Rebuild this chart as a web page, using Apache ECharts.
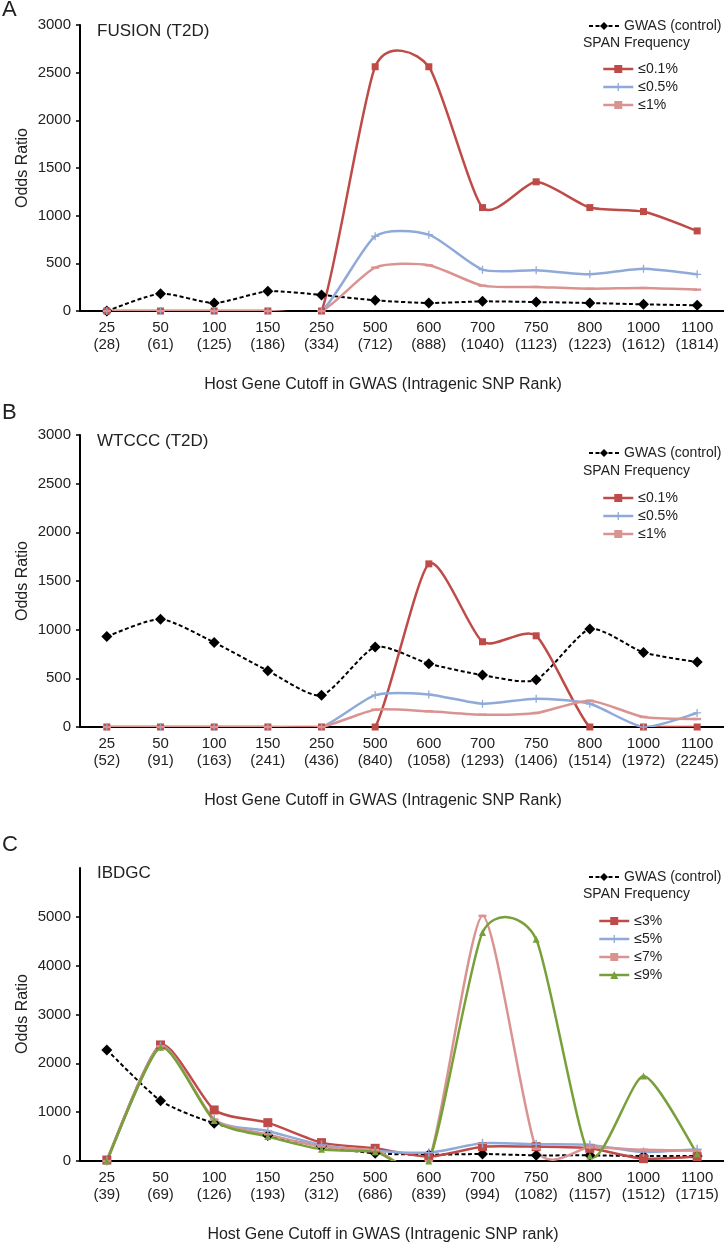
<!DOCTYPE html>
<html lang="en">
  <head>
    <meta charset="UTF-8" />
    <title>SPAN odds ratio</title>
    <style>
      html, body { margin: 0; padding: 0; background: #fff; }
    </style>
  </head>
  <body>
    <div id="main" style="width: 724px; height: 1245px"></div>

    <script src="https://cdn.jsdelivr.net/npm/echarts@6/dist/echarts.min.js"></script>
    <script>
      var myChart = echarts.init(document.getElementById("main"), null, { renderer: "canvas" });

      // x categories: host gene cutoff, with the intragenic SNP rank per panel
      const cutoffs = ["25", "50", "100", "150", "250", "500", "600", "700", "750", "800", "1000", "1100"];
      const ranksA = [28, 61, 125, 186, 334, 712, 888, 1040, 1123, 1223, 1612, 1814];
      const ranksB = [52, 91, 163, 241, 436, 840, 1058, 1293, 1406, 1514, 1972, 2245];
      const ranksC = [39, 69, 126, 193, 312, 686, 839, 994, 1082, 1157, 1512, 1715];

      // A: FUSION (T2D)
      const gwasA = [0, 182, 84, 206, 168, 112, 84, 101, 94, 84, 70, 60];
      const spanA01 = [0, 0, 0, 0, 0, 2562, 2562, 1085, 1355, 1085, 1043, 840];
      const spanA05 = [0, 0, 0, 0, 0, 784, 801, 434, 427, 385, 444, 385];
      const spanA1 = [0, 0, 0, 0, 0, 455, 480, 266, 252, 234, 241, 224];

      // B: WTCCC (T2D)
      const gwasB = [930, 1108, 869, 578, 325, 821, 650, 534, 486, 1006, 766, 667];
      const spanB01 = [0, 0, 0, 0, 0, 0, 1676, 876, 937, 0, 0, 0];
      const spanB05 = [0, 0, 0, 0, 0, 328, 335, 239, 291, 239, 0, 144];
      const spanB1 = [0, 0, 0, 0, 0, 178, 161, 127, 144, 270, 103, 82];

      // C: IBDGC
      const gwasC = [2275, 1236, 772, 520, 300, 157, 130, 143, 116, 116, 102, 102];
      const spanC3 = [20, 2377, 1045, 785, 376, 260, 89, 294, 294, 260, 48, 89];
      const spanC5 = [0, 2350, 850, 615, 328, 212, 171, 362, 342, 328, 184, 239];
      const spanC7 = [0, 2350, 850, 546, 294, 225, 0, 5020, 250, 280, 230, 210];
      const spanC9 = [0, 2330, 830, 500, 240, 190, 0, 4680, 4542, 100, 1740, 143];

      const yTicksAB = [0, 500, 1000, 1500, 2000, 2500, 3000];
      const yTicksC = [0, 1000, 2000, 3000, 4000, 5000];

      const RED = "#BE4B48";
      const BLUE = "#8FAAD8";
      const PINK = "#D99492";
      const GREEN = "#78A03A";
      const FONT = "Liberation Sans, Arial, sans-serif";

      const PLUS = "path://M4.2,0H5.8V4.2H10V5.8H5.8V10H4.2V5.8H0V4.2H4.2Z";
      const DASH = "path://M0,0H10V3H0Z";

      // spreadsheet-style smoothing (cardinal spline through the points)
      const TENSION = 0.11;

      function labels(ranks) {
        return cutoffs.map((c, i) => c + "\n(" + ranks[i] + ")");
      }

      function xAxis(idx, ranks) {
        return {
          type: "category",
          gridIndex: idx,
          data: labels(ranks),
          boundaryGap: true,
          axisLine: { lineStyle: { color: "#000", width: 2 } },
          axisTick: { show: false },
          axisLabel: {
            interval: 0,
            margin: 8,
            fontSize: 15,
            lineHeight: 17,
            color: "#222",
            fontFamily: FONT,
          },
        };
      }

      function yAxis(idx, max, interval, ticks) {
        return {
          type: "value",
          gridIndex: idx,
          min: 0,
          max: max,
          interval: interval,
          splitLine: { show: false },
          axisLine: { show: true, lineStyle: { color: "#000", width: 2 } },
          axisTick: { show: true, length: 4, customValues: ticks, lineStyle: { color: "#000", width: 1.5 } },
          axisLabel: {
            margin: 9,
            fontSize: 15,
            color: "#222",
            fontFamily: FONT,
            customValues: ticks,
            formatter: (v) => String(v),
          },
        };
      }

      // the curve itself, drawn segment by segment from the axis scales
      function curve(data, idx, color, width, dash) {
        const n = data.length;
        return {
          type: "custom",
          xAxisIndex: idx,
          yAxisIndex: idx,
          clip: true,
          silent: true,
          animation: false,
          data: data.map((v, i) => [i, v]),
          encode: { x: 0, y: 1 },
          renderItem: function (params, api) {
            const i = params.dataIndex;
            if (i >= n - 1) return null;
            const P = (k) => {
              k = Math.max(0, Math.min(n - 1, k));
              return api.coord([k, data[k]]);
            };
            const p0 = P(i - 1), p1 = P(i), p2 = P(i + 1), p3 = P(i + 2);
            return {
              type: "bezierCurve",
              shape: {
                x1: p1[0],
                y1: p1[1],
                x2: p2[0],
                y2: p2[1],
                cpx1: p1[0] + TENSION * (p2[0] - p0[0]),
                cpy1: p1[1] + TENSION * (p2[1] - p0[1]),
                cpx2: p2[0] - TENSION * (p3[0] - p1[0]),
                cpy2: p2[1] - TENSION * (p3[1] - p1[1]),
              },
              style: { stroke: color, fill: null, lineWidth: width, lineDash: dash || null },
            };
          },
        };
      }

      // markers + legend entry
      function marks(name, data, idx, color, symbol, size) {
        return {
          name: name,
          type: "line",
          xAxisIndex: idx,
          yAxisIndex: idx,
          data: data,
          symbol: symbol,
          symbolSize: size,
          symbolKeepAspect: true,
          showAllSymbol: true,
          color: color,
          itemStyle: { color: color },
          lineStyle: { color: color, opacity: 0 },
          emphasis: { disabled: true },
          silent: true,
          animation: false,
        };
      }

      function span(name, data, idx, color, symbol, size) {
        return [curve(data, idx, color, 2.5), marks(name, data, idx, color, symbol, size)];
      }

      function gwas(data, idx) {
        return [curve(data, idx, "#000", 2, [4, 2.5]), marks("GWAS (control)", data, idx, "#000", "diamond", 11)];
      }

      const legendText = { fontSize: 14, color: "#222", fontFamily: FONT, lineHeight: 16 };

      function legendPair(top1, top2, names, subLeft) {
        return [
          {
            data: ["GWAS (control)"],
            left: 583,
            top: top1 - 8,
            itemWidth: 30,
            itemHeight: 10,
            textStyle: legendText,
            lineStyle: { opacity: 1, width: 2, type: [4, 2.5] },
            selectedMode: false,
          },
          {
            data: names,
            orient: "vertical",
            left: subLeft,
            top: top2 - 8,
            itemGap: 2,
            itemWidth: 30,
            itemHeight: 10,
            textStyle: legendText,
            lineStyle: { opacity: 1, width: 2.5 },
            selectedMode: false,
          },
        ];
      }

      function text(x, y, str, size) {
        return {
          type: "text",
          x: x,
          y: y,
          style: {
            text: str,
            fontSize: size,
            fontFamily: FONT,
            fill: "#222",
            align: "left",
            verticalAlign: "middle",
          },
        };
      }

      function yTitle(y) {
        return {
          type: "text",
          x: 23,
          y: y,
          rotation: Math.PI / 2,
          style: {
            text: "Odds Ratio",
            fontSize: 16,
            fontFamily: FONT,
            fill: "#222",
            align: "center",
            verticalAlign: "middle",
          },
        };
      }

      function xTitle(y, str) {
        const t = text(383, y, str, 16);
        t.style.align = "center";
        return t;
      }

      var option = {
        backgroundColor: "#fff",
        animation: false,
        grid: [
          { left: 80, top: 25, width: 660, height: 286 },
          { left: 80, top: 435, width: 654, height: 292 },
          { left: 80, top: 868, width: 654, height: 293 },
        ],
        xAxis: [xAxis(0, ranksA), xAxis(1, ranksB), xAxis(2, ranksC)],
        yAxis: [
          yAxis(0, 3000, 500, yTicksAB),
          yAxis(1, 3000, 500, yTicksAB),
          yAxis(2, 6000, 1000, yTicksC),
        ],
        legend: []
          .concat(legendPair(21, 64, ["≤0.1%", "≤0.5%", "≤1%"], 597))
          .concat(legendPair(448, 493, ["≤0.1%", "≤0.5%", "≤1%"], 597))
          .concat(legendPair(872, 916, ["≤3%", "≤5%", "≤7%", "≤9%"], 593)),
        graphic: [
          text(2, 10, "A", 22),
          text(2, 413, "B", 22),
          text(2, 845, "C", 22),
          text(97, 31, "FUSION (T2D)", 17),
          text(97, 441, "WTCCC (T2D)", 17),
          text(97, 873, "IBDGC", 17),
          text(583, 43, "SPAN Frequency", 14),
          text(583, 471, "SPAN Frequency", 14),
          text(583, 894, "SPAN Frequency", 14),
          yTitle(168),
          yTitle(581),
          yTitle(1014),
          xTitle(385, "Host Gene Cutoff in GWAS (Intragenic SNP Rank)"),
          xTitle(801, "Host Gene Cutoff in GWAS (Intragenic SNP Rank)"),
          xTitle(1235, "Host Gene Cutoff in GWAS (Intragenic SNP rank)"),
        ],
        series: []
          .concat(gwas(gwasA, 0))
          .concat(span("≤0.1%", spanA01, 0, RED, "rect", 7))
          .concat(span("≤0.5%", spanA05, 0, BLUE, PLUS, 8))
          .concat(span("≤1%", spanA1, 0, PINK, DASH, 8))
          .concat(gwas(gwasB, 1))
          .concat(span("≤0.1%", spanB01, 1, RED, "rect", 7))
          .concat(span("≤0.5%", spanB05, 1, BLUE, PLUS, 8))
          .concat(span("≤1%", spanB1, 1, PINK, DASH, 8))
          .concat(gwas(gwasC, 2))
          .concat(span("≤3%", spanC3, 2, RED, "rect", 9))
          .concat(span("≤5%", spanC5, 2, BLUE, PLUS, 9))
          .concat(span("≤7%", spanC7, 2, PINK, DASH, 8))
          .concat(span("≤9%", spanC9, 2, GREEN, "triangle", 7)),
      };
      myChart.setOption(option);
    </script>
  </body>
</html>
